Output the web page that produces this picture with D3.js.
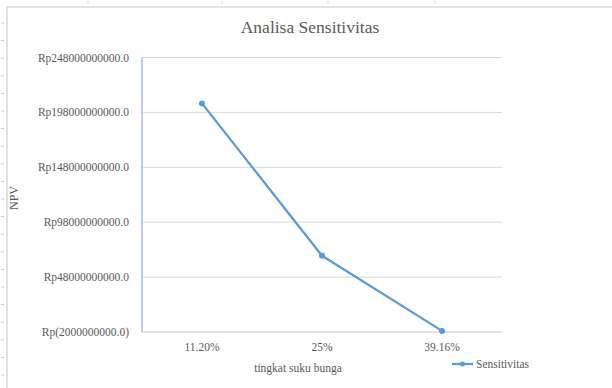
<!DOCTYPE html>
<html>
<head>
<meta charset="utf-8">
<script src="https://cdn.jsdelivr.net/npm/d3@7"></script>
<style>
  body { margin: 0; background: #fff; }
</style>
</head>
<body>
<svg width="612" height="388"></svg>
<script>
const categories = ["11.20%", "25%", "39.16%"];
const npvValues = [206.2e9, 67.4e9, -1.0e9];
const yTicks = [-2e9, 48e9, 98e9, 148e9, 198e9, 248e9];
const seriesName = "Sensitivitas";

const FONT = "'Liberation Serif', 'Times New Roman', 'DejaVu Serif', serif";
const svg = d3.select("svg")
    .attr("font-family", FONT);
const margin = {left: 142, right: 110, top: 57.5, bottom: 56};
const W = 612, H = 388;

// sheet remnants: chart frame and row/column marks
svg.append("path")
    .attr("d", "M7,400V7H620")
    .attr("fill", "none").attr("stroke", "#d9d9d9").attr("stroke-width", 1.5);
d3.range(23, 388, 17.6).forEach(y => {
  svg.append("line").attr("x1", 1).attr("x2", 4).attr("y1", y).attr("y2", y)
      .attr("stroke", "#ccc");
});
[88, 222, 328, 435].forEach(x => {
  svg.append("line").attr("x1", x).attr("x2", x).attr("y1", 1).attr("y2", 4)
      .attr("stroke", "#ddd");
});

const x = d3.scaleBand().domain(categories).range([margin.left, W - margin.right]);
const y = d3.scaleLinear().domain([-2e9, 248e9]).range([H - margin.bottom, margin.top]);

// gridlines
svg.append("g").selectAll("line").data(yTicks.slice(1)).enter().append("line")
    .attr("x1", margin.left).attr("x2", W - margin.right)
    .attr("y1", d => y(d)).attr("y2", d => y(d))
    .attr("stroke", "#d9d9d9").attr("stroke-width", 1);

// bottom axis line
svg.append("line")
    .attr("x1", margin.left).attr("x2", W - margin.right)
    .attr("y1", y(-2e9)).attr("y2", y(-2e9))
    .attr("stroke", "#d9d9d9").attr("stroke-width", 1.5);

// vertical axis line
svg.append("line")
    .attr("x1", margin.left).attr("x2", margin.left)
    .attr("y1", y(248e9)).attr("y2", y(-2e9))
    .attr("stroke", "#9dc3e6").attr("stroke-width", 1.5);

const fmt = v => v < 0 ? "Rp(" + Math.abs(v) + ".0)" : "Rp" + v + ".0";

const txt = sel => sel.attr("font-family", FONT).attr("fill", "#595959");

svg.append("g").selectAll("text").data(yTicks).enter().append("text")
    .call(txt)
    .attr("x", 129).attr("y", d => y(d))
    .attr("dy", "0.35em").attr("text-anchor", "end")
    .attr("font-size", 11.5)
    .text(fmt);

svg.append("g").selectAll("text").data(categories).enter().append("text")
    .call(txt)
    .attr("x", d => x(d) + x.bandwidth() / 2).attr("y", 351)
    .attr("text-anchor", "middle").attr("font-size", 11.5)
    .text(d => d);

// titles
svg.append("text").call(txt).attr("x", 310).attr("y", 33)
    .attr("text-anchor", "middle").attr("font-size", 17.5)
    .text("Analisa Sensitivitas");

svg.append("text").call(txt).attr("x", 298).attr("y", 372)
    .attr("text-anchor", "middle").attr("font-size", 11.5)
    .text("tingkat suku bunga");

svg.append("text").call(txt)
    .attr("transform", "translate(18,198) rotate(-90)")
    .attr("text-anchor", "middle").attr("font-size", 12)
    .text("NPV");

// series
const pts = categories.map((c, i) => [x(c) + x.bandwidth() / 2, y(npvValues[i])]);
svg.append("path")
    .attr("d", d3.line()(pts))
    .attr("fill", "none").attr("stroke", "#5b9bd5").attr("stroke-width", 2.25)
    .attr("stroke-linejoin", "round");
svg.append("g").selectAll("circle").data(pts).enter().append("circle")
    .attr("cx", d => d[0]).attr("cy", d => d[1]).attr("r", 3)
    .attr("fill", "#5b9bd5");

// legend
const lg = svg.append("g").attr("transform", "translate(452,364)");
lg.append("line").attr("x1", 0).attr("x2", 21).attr("stroke", "#5b9bd5").attr("stroke-width", 2.25);
lg.append("circle").attr("cx", 10.5).attr("r", 2.5).attr("fill", "#5b9bd5");
lg.append("text").call(txt).attr("x", 24).attr("dy", "0.35em").attr("font-size", 11.5).text(seriesName);
</script>
</body>
</html>
